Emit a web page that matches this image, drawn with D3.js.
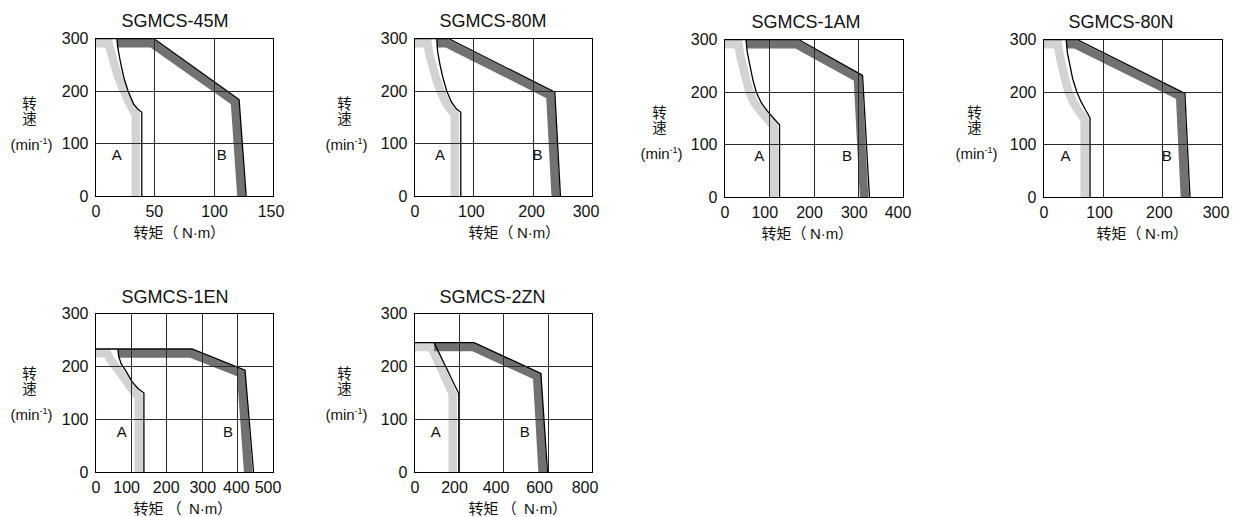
<!DOCTYPE html>
<html><head><meta charset="utf-8">
<script src="https://cdn.jsdelivr.net/npm/d3@7"></script>
<style>body{margin:0;background:#fff} text{text-spacing-trim:space-all}</style>
</head><body><svg id="c" width="1236" height="517"></svg>
<script>
// ---------- data ----------
const titles = ["SGMCS-45M", "SGMCS-80M", "SGMCS-1AM", "SGMCS-80N", "SGMCS-1EN", "SGMCS-2ZN"];
const torqueMax = [150, 300, 400, 300, 500, 800];
const torqueTicks = [
  [0, 50, 100, 150],
  [0, 100, 200, 300],
  [0, 100, 200, 300, 400],
  [0, 100, 200, 300],
  [0, 100, 200, 300, 400, 500],
  [0, 200, 400, 600, 800]
];
const speedMax = 300;
const speedTicks = [0, 100, 200, 300];
const xTitleHead = ["转矩（", "转矩（", "转矩（", "转矩（", "转矩 （", "转矩 （"];
const xTitleUnit = "N·m";
const xTitleTail = "）";
const yTitleName = "转速";

// region A boundary (thin black line), [torque, speed]
const lineA = [
  [[18,300],[19,280],[21.5,250],[24,225],[27.5,200],[32,176],[36,165],[39,160],[39,0]],
  [[37.5,300],[39,275],[43,250],[48,225],[54.5,200],[62,180],[70,167],[78,160],[78,0]],
  [[48,300],[51,275],[57,250],[63,225],[71,200],[82,180],[95,165],[110,150],[123,138],[123,0]],
  [[38,300],[40,275],[44.5,250],[49,225],[56,200],[63,182],[70,167],[78,151],[78,0]],
  [[63,233],[65,220],[72,205],[84,193],[103,171],[120,158],[136,150],[136,0]],
  [[88,245],[199,149],[199,0]]
];
// region A light band (centre line)
const bandA = [
  [[0,291],[11,291],[13,275],[16,250],[19.5,225],[24,200],[28,180],[31.5,165],[34,155],[34,0]],
  [[0,291],[22,291],[25,270],[30,250],[36,225],[44,200],[52,180],[62,163],[68,155],[68,0]],
  [[0,291],[31,291],[35,270],[41,250],[48,225],[56,200],[67,180],[80,165],[95,150],[110,135],[110,0]],
  [[0,291],[24,291],[27,270],[31,250],[36,225],[42,200],[50,180],[60,162],[69,148],[69,0]],
  [[0,225],[33,225],[40,215],[51,205],[64,193],[79,180],[98,161],[121.5,143],[121.5,0]],
  [[0,237],[76,237],[172,148],[172,0]]
];
// region B boundary (thin black line)
const lineB = [
  [[0,300],[49,300],[121,184],[127,0]],
  [[0,300],[57,300],[236.5,198],[246,0]],
  [[0,300],[165,300],[308.5,232],[324,0]],
  [[0,300],[56,300],[237,197.5],[245.5,0]],
  [[0,233],[271,233],[420,193],[444,0]],
  [[0,245],[268,245],[568,187],[598,0]]
];
// region B dark band (centre line)
const bandB = [
  [[18,291],[47.5,291],[117.5,180],[123,0]],
  [[37.5,291],[54,291],[229,192],[238,0]],
  [[48,291],[161,291],[298,227],[312,0]],
  [[38,291],[53,291],[229,192.5],[237,0]],
  [[63,224.5],[268,224.5],[409,187],[429,0]],
  [[88,237],[263,237],[551,182],[576,0]]
];
const labelA = [[18,79],[43,79],[77.5,79.5],[37,80],[73.5,77.5],[96,76.5]];
const labelB = [[106.5,79],[207.5,79],[273.5,79.5],[206.5,80],[372,77.5],[495,76.5]];

// ---------- layout ----------
const layout = [
  {x:95,  y:38,  w:178, h:158, tDx:26, tDy:-12,   xtDx:38, xSp:0, ytDx:-66, ytDy:65,   tickDx:[0,-1,0,-3]},
  {x:414, y:38,  w:178, h:158, tDx:25, tDy:-12,   xtDx:54, xSp:0, ytDx:-70, ytDy:65,   tickDx:[0,-3,-2,-7]},
  {x:724, y:39,  w:179, h:158, tDx:27, tDy:-12,   xtDx:37, xSp:0, ytDx:-65, ytDy:73.5, tickDx:[0,-5,-5,-5,-6]},
  {x:1043,y:39,  w:179, h:158, tDx:25, tDy:-12,   xtDx:53, xSp:0, ytDx:-69, ytDy:73.5, tickDx:[0,-4,-4,-7]},
  {x:95,  y:313, w:178, h:159, tDx:26, tDy:-10.5, xtDx:38, xSp:7, ytDx:-66, ytDy:60,   tickDx:[0,-5,-1,0,-2,-6]},
  {x:414, y:313, w:178, h:159, tDx:25, tDy:-10.5, xtDx:54, xSp:7, ytDx:-70, ytDy:60,   tickDx:[0,-5,-8,-9,-8]}
];
const LATIN = '"Liberation Sans", Arial, Helvetica, sans-serif';
const CJK = '"Noto Sans CJK SC", "Noto Sans", sans-serif';

const svg = d3.select("#c");
const defs = svg.append("defs");

layout.forEach((L, i) => {
  const g = svg.append("g").attr("transform", `translate(${L.x + 0.5},${L.y + 0.5})`);
  const x = d3.scaleLinear().domain([0, torqueMax[i]]).range([0, L.w]);
  const y = d3.scaleLinear().domain([0, speedMax]).range([L.h, 0]);
  const line = d3.line().x(d => x(d[0])).y(d => y(d[1]));

  defs.append("clipPath").attr("id", "clip" + i)
    .append("rect").attr("width", L.w).attr("height", L.h);
  const plot = g.append("g").attr("clip-path", `url(#clip${i})`);

  // bands
  plot.append("path").attr("d", line(bandA[i])).attr("fill", "none")
    .attr("stroke", "#d3d3d3").attr("stroke-width", 8.5).attr("stroke-linejoin", "miter");
  plot.append("path").attr("d", line(bandB[i])).attr("fill", "none")
    .attr("stroke", "#717171").attr("stroke-width", 8.5).attr("stroke-linejoin", "miter");

  // grid
  g.append("g").selectAll("line").data(torqueTicks[i].slice(1, -1)).join("line")
    .attr("x1", d => Math.round(x(d))).attr("x2", d => Math.round(x(d)))
    .attr("y1", 0).attr("y2", L.h).attr("stroke", "#2a2a2a").attr("stroke-width", 1);
  g.append("g").selectAll("line").data(speedTicks.slice(1, -1)).join("line")
    .attr("y1", d => Math.round(y(d))).attr("y2", d => Math.round(y(d)))
    .attr("x1", 0).attr("x2", L.w).attr("stroke", "#2a2a2a").attr("stroke-width", 1);

  // boundary lines
  plot.append("path").attr("d", line(lineA[i])).attr("fill", "none")
    .attr("stroke", "#000").attr("stroke-width", 1.3);
  plot.append("path").attr("d", line(lineB[i])).attr("fill", "none")
    .attr("stroke", "#000").attr("stroke-width", 1.3);

  // frame
  g.append("rect").attr("width", L.w).attr("height", L.h)
    .attr("fill", "none").attr("stroke", "#000").attr("stroke-width", 1);

  // axes
  const xa = g.append("g").attr("transform", `translate(0,${L.h})`)
    .call(d3.axisBottom(x).tickValues(torqueTicks[i]).tickSize(0).tickPadding(9).tickFormat(d3.format("d")));
  xa.select(".domain").remove();
  xa.selectAll("text").attr("font-family", LATIN).attr("font-size", 16).attr("fill", "#111")
    .attr("dx", (d, k) => L.tickDx[k] || 0);
  const ya = g.append("g")
    .call(d3.axisLeft(y).tickValues(speedTicks).tickSize(0).tickPadding(7).tickFormat(d3.format("d")));
  ya.select(".domain").remove();
  ya.selectAll("text").attr("font-family", LATIN).attr("font-size", 16).attr("fill", "#111");

  // labels A/B
  [[labelA[i], "A"], [labelB[i], "B"]].forEach(([p, t]) => {
    g.append("text").attr("x", x(p[0])).attr("y", y(p[1]))
      .attr("text-anchor", "middle").attr("dominant-baseline", "central")
      .attr("font-family", LATIN).attr("font-size", 15).attr("fill", "#111").text(t);
  });

  // title
  g.append("text").attr("x", L.tDx).attr("y", L.tDy)
    .attr("font-family", LATIN).attr("font-size", 18).attr("fill", "#111").text(titles[i]);

  // x title
  const xt = g.append("text").attr("y", L.h + 41)
    .attr("font-family", CJK).attr("font-size", 15).attr("fill", "#111");
  xt.append("tspan").attr("x", L.xtDx).text(xTitleHead[i]);
  xt.append("tspan").attr("x", L.xtDx + 48.4 + L.xSp).attr("font-family", LATIN).text(xTitleUnit);
  xt.append("tspan").attr("x", L.xtDx + 76.5 + L.xSp).text(xTitleTail);

  // y title (vertical)
  g.append("text").attr("x", L.ytDx).attr("y", L.ytDy - 7.5)
    .style("writing-mode", "vertical-rl").style("text-orientation", "upright")
    .attr("font-family", CJK).attr("font-size", 14.5).attr("letter-spacing", 0.5)
    .attr("fill", "#111").text(yTitleName);
  const mt = g.append("text").attr("x", L.ytDx + 2).attr("y", L.ytDy + 46).attr("text-anchor", "middle")
    .attr("font-family", LATIN).attr("font-size", 15).attr("fill", "#111");
  mt.append("tspan").text("(min");
  mt.append("tspan").attr("font-size", 9).attr("dy", -6).text("-1");
  mt.append("tspan").attr("dy", 6).text(")");
});
</script></body></html>
